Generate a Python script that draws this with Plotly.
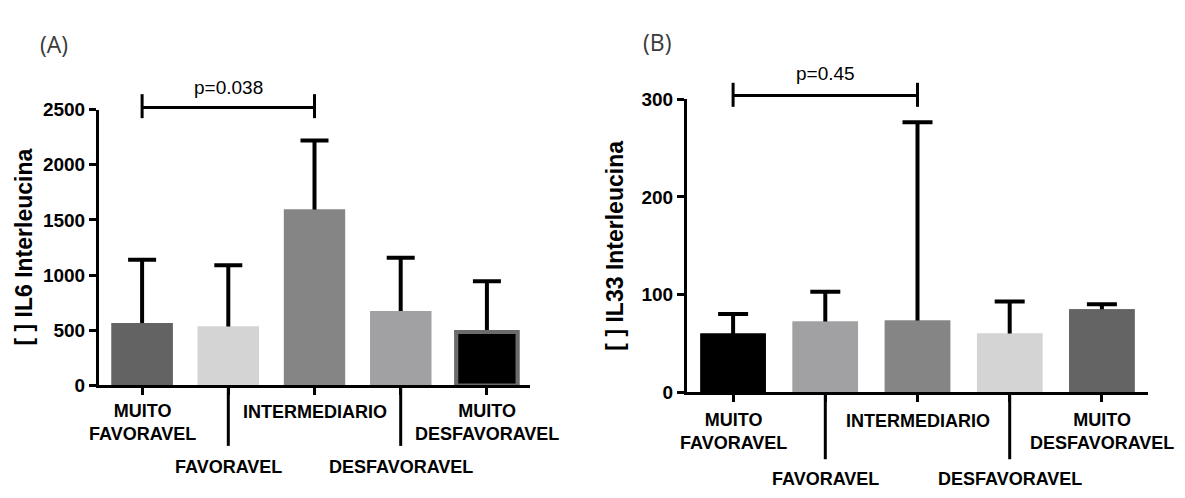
import plotly.graph_objects as go

# ---------------- data ----------------
categories = ["MUITO FAVORAVEL", "FAVORAVEL", "INTERMEDIARIO", "DESFAVORAVEL", "MUITO DESFAVORAVEL"]
tick_labels = ["MUITO<br>FAVORAVEL", "FAVORAVEL", "INTERMEDIARIO", "DESFAVORAVEL", "MUITO<br>DESFAVORAVEL"]

il6_mean = [565, 535, 1595, 675, 485]
il6_sd = [575, 555, 625, 482, 459]
il6_colors = ["#636363", "#d4d4d4", "#858585", "#a1a1a4", "#000000"]
il6_line_colors = ["#636363", "#d4d4d4", "#858585", "#a1a1a4", "#6b6b6b"]
il6_line_widths = [0, 0, 0, 0, 4]

il33_mean = [60, 72.5, 73.5, 60, 85]
il33_sd = [20, 30.5, 203, 33, 5]
il33_colors = ["#000000", "#a1a1a4", "#858585", "#d4d4d4", "#646464"]

il6_ticks = [0, 500, 1000, 1500, 2000, 2500]
il33_ticks = [0, 100, 200, 300]

p_a = "p=0.038"
p_b = "p=0.45"

FONT = "Liberation Sans, Arial, sans-serif"
W, H = 1185, 498
BAR_W = 0.71

fig = go.Figure()


def add_panel(mean, sd, colors, line_colors, line_widths, xa, ya, cap):
    # bars carrying the SD error bars; the lower half is hidden by the cover bars
    fig.add_trace(go.Bar(
        x=categories, y=mean, xaxis=xa, yaxis=ya, width=BAR_W,
        marker=dict(color=colors, line=dict(color=line_colors, width=line_widths)),
        error_y=dict(type="data", symmetric=False, array=sd,
                     arrayminus=[m * 0.5 for m in mean],
                     color="black", thickness=4, width=cap),
        showlegend=False, hoverinfo="skip"))
    # identical bars drawn on top so that only the upward whisker is visible
    fig.add_trace(go.Bar(
        x=categories, y=mean, xaxis=xa, yaxis=ya, width=BAR_W,
        marker=dict(color=colors, line=dict(color=line_colors, width=line_widths)),
        showlegend=False, hoverinfo="x+y"))


add_panel(il6_mean, il6_sd, il6_colors, il6_line_colors, il6_line_widths, "x", "y", 14)
add_panel(il33_mean, il33_sd, il33_colors, il33_colors, [0] * 5, "x2", "y2", 15)

axis_common = dict(showline=True, linecolor="black", linewidth=3, ticks="outside",
                   ticklen=7, tickwidth=3, tickcolor="black", showgrid=False, zeroline=False)

fig.update_layout(
    width=W, height=H, margin=dict(l=0, r=0, t=0, b=0),
    paper_bgcolor="white", plot_bgcolor="white",
    font=dict(family=FONT, color="black"),
    barmode="overlay",
    xaxis=dict(domain=[99 / W, 530 / W], type="category", categoryorder="array",
               categoryarray=categories, range=[-0.5, 4.5], showticklabels=False,
               anchor="y", **axis_common),
    yaxis=dict(domain=[(H - 392) / H, (H - 104) / H], range=[0, 2500], tickvals=il6_ticks,
               tickfont=dict(size=19, weight="bold", family=FONT), anchor="x", **axis_common),
    xaxis2=dict(domain=[687 / W, 1148 / W], type="category", categoryorder="array",
                categoryarray=categories, range=[-0.5, 4.5], showticklabels=False,
                anchor="y2", **axis_common),
    yaxis2=dict(domain=[(H - 399) / H, (H - 93.3) / H], range=[0, 300], tickvals=il33_ticks,
                tickfont=dict(size=19, weight="bold", family=FONT), anchor="x2", **axis_common),
)

shapes = []
annotations = []

label_font = dict(size=18, weight="bold", family=FONT, color="black")

# per-panel settings: (xref, yref, upper 2-line center, single line, lower, long tick end)
panels = [
    ("x", "y domain", -0.1354, -0.0972, -0.295, -0.219),
    ("x2", "y2 domain", -0.1358, -0.1000, -0.2977, -0.229),
]
for xref, yref, y_two, y_one, y_low, y_tick in panels:
    for i, (cat, lab) in enumerate(zip(categories, tick_labels)):
        if i in (1, 3):
            shapes.append(dict(type="line", xref=xref, yref=yref, x0=cat, x1=cat, y0=0, y1=y_tick,
                               line=dict(color="black", width=3)))
            yy = y_low
        elif "<br>" in lab:
            yy = y_two
        else:
            yy = y_one
        annotations.append(dict(text=lab, xref=xref, yref=yref, x=cat, y=yy, showarrow=False,
                                xanchor="center", yanchor="middle", font=label_font))

# significance brackets
brackets = [
    ("x", "y domain", categories[0], categories[2], 1.008, 1.056, 0.969, 1.081, p_a),
    ("x2", "y2 domain", categories[0], categories[2], 1.013, 1.0566, 0.9745, 1.087, p_b),
]
for xref, yref, c0, c1, yl, ytop, ybot, ytext, txt in brackets:
    shapes.append(dict(type="line", xref=xref, yref=yref, x0=c0, x1=c1, y0=yl, y1=yl,
                       line=dict(color="black", width=3)))
    for c in (c0, c1):
        shapes.append(dict(type="line", xref=xref, yref=yref, x0=c, x1=c, y0=ybot, y1=ytop,
                           line=dict(color="black", width=3)))
    annotations.append(dict(text=txt, xref=xref, yref=yref, x=1, y=ytext, showarrow=False,
                            xanchor="center", yanchor="middle",
                            font=dict(size=19, family=FONT, color="black")))

# y-axis titles
annotations.append(dict(text="[ ] IL6 Interleucina", xref="paper", yref="paper",
                        x=24 / W, y=(H - 248) / H, textangle=-90, showarrow=False,
                        xanchor="center", yanchor="middle",
                        font=dict(size=23, weight="bold", family=FONT, color="black")))
annotations.append(dict(text="[ ] IL33 Interleucina", xref="paper", yref="paper",
                        x=615 / W, y=(H - 246) / H, textangle=-90, showarrow=False,
                        xanchor="center", yanchor="middle",
                        font=dict(size=23, weight="bold", family=FONT, color="black")))

# panel letters
annotations.append(dict(text="(A)", xref="paper", yref="paper", x=38 / W, y=(H - 36) / H,
                        showarrow=False, xanchor="left", yanchor="middle",
                        font=dict(size=23, family="Open Sans, sans-serif", color="#3a3a3a")))
annotations.append(dict(text="(B)", xref="paper", yref="paper", x=641 / W, y=(H - 33) / H,
                        showarrow=False, xanchor="left", yanchor="middle",
                        font=dict(size=23, family="Open Sans, sans-serif", color="#3a3a3a")))

fig.update_layout(shapes=shapes, annotations=annotations)

fig.write_html("out.html")
